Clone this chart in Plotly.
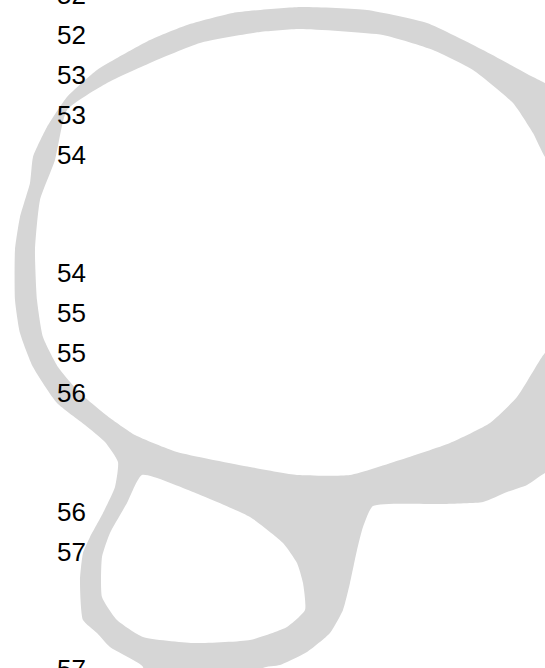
import plotly.graph_objects as go

# Tick-like labels (top to bottom) and their vertical positions
label_text = ["52", "52", "53", "53", "54", "54", "55", "55", "56", "56", "57", "57"]
label_y = [-3, 37, 77, 117, 157, 275, 315, 355, 395, 514, 554, 671]
label_x = [71.5] * len(label_text)

# Outline of the grey band (outer boundary)
outer_x = [97, 117, 150, 187, 233, 300, 367, 427, 483, 533, 545, 565,
           565, 545, 527, 507, 483, 443, 373, 363, 357, 350, 343, 330, 307, 280, 263, 255,
           140, 143, 110, 97, 83, 80, 83, 90, 103, 115, 118, 105, 85, 57, 33, 20, 15, 15,
           20, 30, 33, 47, 67, 97]
outer_y = [70, 58, 40, 25, 13, 7, 10, 23, 50, 77, 83, 95,
           465, 473, 485, 492, 502, 504, 506, 527, 550, 583, 610, 633, 652, 665, 668, 690,
           690, 667, 647, 633, 620, 580, 553, 537, 513, 487, 462, 442, 425, 403, 367, 333, 300, 250,
           217, 183, 157, 127, 97, 70]

# Interior of the large loop
hole1_x = [67, 107, 150, 200, 260, 300, 383, 433, 473, 513, 533, 545, 565,
           565, 545, 540, 517, 490, 450, 400, 350, 297, 250, 177, 135, 110,
           80, 58, 43, 37, 35, 40, 55, 67]
hole1_y = [110, 83, 63, 43, 32, 29, 35, 50, 70, 103, 133, 157, 180,
           340, 353, 360, 397, 423, 443, 460, 475, 475, 467, 452, 435, 418,
           393, 367, 337, 300, 250, 200, 160, 110]

# Interior of the small loop
hole2_x = [142, 193, 250, 283, 297, 303, 305, 287, 250, 193, 143, 117, 102, 102, 110, 127, 142]
hole2_y = [475, 492, 517, 543, 563, 583, 610, 627, 640, 643, 637, 620, 597, 557, 533, 503, 475]

band_color = "#d6d6d6"

fig = go.Figure()
fig.add_trace(go.Scatter(x=outer_x, y=outer_y, mode="lines", fill="toself",
                         fillcolor=band_color,
                         line=dict(width=0, color=band_color, shape="spline", smoothing=0.5),
                         hoverinfo="skip", showlegend=False))
for hx, hy in [(hole1_x, hole1_y), (hole2_x, hole2_y)]:
    fig.add_trace(go.Scatter(x=hx, y=hy, mode="lines", fill="toself",
                             fillcolor="white",
                             line=dict(width=0, color="white", shape="spline", smoothing=0.5),
                             hoverinfo="skip", showlegend=False))
fig.add_trace(go.Scatter(x=label_x, y=label_y, mode="text", text=label_text,
                         textposition="middle center", cliponaxis=True,
                         textfont=dict(family="Liberation Sans, Arial, sans-serif",
                                       size=26, color="black"),
                         hoverinfo="skip", showlegend=False))

fig.update_layout(
    width=545, height=668,
    margin=dict(l=0, r=0, t=0, b=0),
    paper_bgcolor="white", plot_bgcolor="white",
    xaxis=dict(range=[0, 545], visible=False, fixedrange=True),
    yaxis=dict(range=[668, 0], visible=False, fixedrange=True),
)
fig.write_html("out.html", config={"displayModeBar": False},
               post_script="document.body.style.margin='0';document.body.style.overflow='hidden';")
